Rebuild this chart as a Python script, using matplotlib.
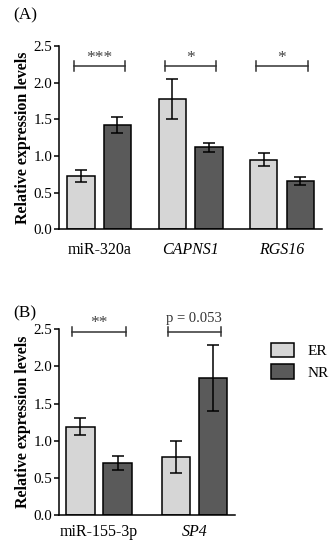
import numpy as np
import matplotlib.pyplot as plt
from matplotlib.patches import Patch

plt.rcParams["font.family"] = ["Liberation Serif", "DejaVu Serif"]

# panel A
genes_a = ["miR-320a", "CAPNS1", "RGS16"]
italic_a = [False, True, True]
er_a = [0.73, 1.78, 0.95]
er_a_err = [0.08, 0.27, 0.09]
nr_a = [1.42, 1.12, 0.66]
nr_a_err = [0.11, 0.06, 0.06]
sig_a = ["***", "*", "*"]

# panel B
genes_b = ["miR-155-3p", "SP4"]
italic_b = [False, True]
er_b = [1.19, 0.78]
er_b_err = [0.11, 0.22]
nr_b = [0.70, 1.85]
nr_b_err = [0.095, 0.445]
sig_b = ["**", "p = 0.053"]

c_er = "#d6d6d6"
c_nr = "#5a5a5a"


def panel(ax, genes, italic, er, er_err, nr, nr_err, sig, off, width, xlim,
          bracket_y, sig_y, xpad):
    x = np.arange(len(genes))
    ekw = dict(ecolor="k", elinewidth=1.1, capsize=4.3, capthick=1.1)
    ax.bar(x - off, er, width, yerr=er_err, color=c_er, edgecolor="k", lw=1.1, error_kw=ekw, label="ER")
    ax.bar(x + off, nr, width, yerr=nr_err, color=c_nr, edgecolor="k", lw=1.1, error_kw=ekw, label="NR")
    for xi, s in zip(x, sig):
        x0, x1 = xi - 0.28, xi + 0.28
        ax.plot([x0, x1], [bracket_y, bracket_y], color="#333333", lw=1.1, clip_on=False)
        for xe in (x0, x1):
            ax.plot([xe, xe], [bracket_y - 0.063, bracket_y + 0.063], color="#333333", lw=1.1, clip_on=False)
        if s.startswith("*"):
            ax.text(xi, sig_y - 0.05, s, ha="center", va="center", fontsize=12.5, color="#444444", clip_on=False)
        else:
            ax.text(xi, sig_y, s, ha="center", va="center", fontsize=10.5, color="#333333", clip_on=False)
    ax.set_xlim(*xlim)
    ax.set_ylim(0, 2.5)
    ax.set_yticks([0, 0.5, 1.0, 1.5, 2.0, 2.5])
    ax.set_yticklabels(["0.0", "0.5", "1.0", "1.5", "2.0", "2.5"])
    ax.set_xticks(x)
    ax.set_xticklabels(genes)
    for lab, it in zip(ax.get_xticklabels(), italic):
        if it:
            lab.set_style("italic")
    ax.tick_params(axis="x", length=0, pad=xpad, labelsize=11.5)
    ax.tick_params(axis="y", direction="out", length=3.6, width=1.1, labelsize=10.8, pad=1.5)
    ax.spines["top"].set_visible(False)
    ax.spines["right"].set_visible(False)
    ax.spines["left"].set_linewidth(1.1)
    ax.spines["bottom"].set_linewidth(1.1)
    ax.set_ylabel("Relative expression levels", fontsize=11.5, fontweight="bold", labelpad=2)


fig = plt.figure(figsize=(3.33, 5.5), dpi=100)

ax1 = fig.add_axes([0.178, 0.5831, 0.788, 0.3333])
panel(ax1, genes_a, italic_a, er_a, er_a_err, nr_a, nr_a_err, sig_a,
      0.2, 0.30, (-0.437, 2.434), 2.227, 2.38, 9)

ax2 = fig.add_axes([0.178, 0.0636, 0.528, 0.3377])
panel(ax2, genes_b, italic_b, er_b, er_b_err, nr_b, nr_b_err, sig_b,
      0.195, 0.297, (-0.416, 1.426), 2.468, 2.64, 6.5)

fig.text(0.039, 0.972, "(A)", fontsize=12.5, va="center", ha="left")
fig.text(0.039, 0.431, "(B)", fontsize=12.5, va="center", ha="left")

handles = [Patch(facecolor=c_er, edgecolor="k", lw=1.1, label="ER"),
           Patch(facecolor=c_nr, edgecolor="k", lw=1.1, label="NR")]
fig.legend(handles=handles, loc="upper left", bbox_to_anchor=(0.813, 0.377), frameon=False,
           fontsize=11, handlelength=1.55, handleheight=1.05, labelspacing=0.42, handletextpad=0.88,
           borderpad=0, borderaxespad=0)

fig.savefig("out.png", dpi=100)
